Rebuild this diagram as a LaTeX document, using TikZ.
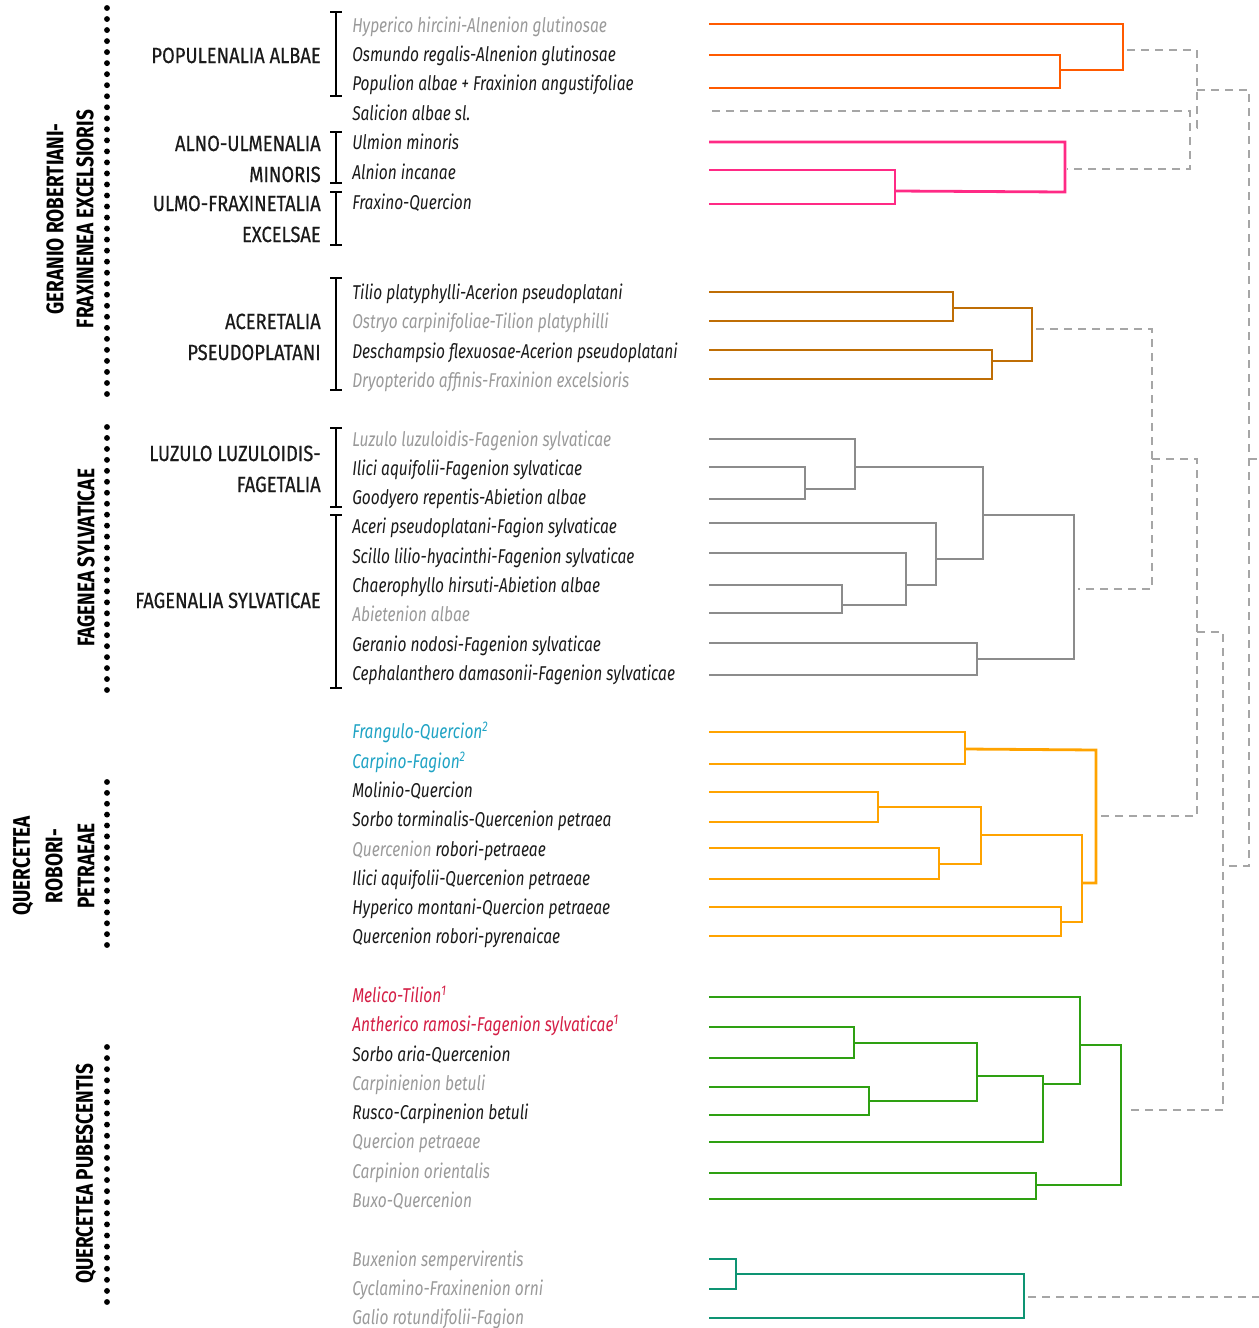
\documentclass[tikz,border=0pt]{standalone}
\usepackage{fontspec}
\newfontfamily\condfont[FakeStretch=0.775]{Fira Sans}
\newfontfamily\ordofont[FakeStretch=0.835,FakeBold=0.5]{Fira Sans}
\newfontfamily\klassfont[FakeStretch=0.79]{Fira Sans}
\definecolor{cOR}{HTML}{FF5A00}
\definecolor{cMG}{HTML}{FF2A85}
\definecolor{cBR}{HTML}{BF6E05}
\definecolor{cGR}{HTML}{8C8C8C}
\definecolor{cYL}{HTML}{FFA300}
\definecolor{cGN}{HTML}{2EA012}
\definecolor{cTL}{HTML}{0E9473}
\definecolor{cDS}{HTML}{A6A6A6}
\definecolor{tBK}{HTML}{1A1A1A}
\definecolor{tGY}{HTML}{9A9A9A}
\definecolor{tCY}{HTML}{1FA3C4}
\definecolor{tRD}{HTML}{D41E45}
\begin{document}
\begin{tikzpicture}[x=0.75pt,y=-0.75pt,
  lst/.style={anchor=base west,inner sep=0pt,font=\condfont\itshape\fontsize{15}{18}\selectfont,text=tBK},
  gry/.style={text=tGY},
  ordo/.style={anchor=base east,inner sep=0pt,font=\ordofont\fontsize{16.5}{20}\selectfont,text=tBK},
  klass/.style={inner sep=0pt,rotate=90,font=\klassfont\bfseries\fontsize{18}{22.5}\selectfont,text=black},
  br/.style={line width=1.9pt,draw=black},
  den/.style={line width=2.1pt,line join=miter},
  dsh/.style={line width=1.9pt,draw=cDS,dash pattern=on 6pt off 4.5pt}]
\useasboundingbox (0,0) rectangle (1259,1328);

% ---- class labels (rotated) ----
\node[klass,align=center] (k1) at (70,219) {GERANIO ROBERTIANI-\\FRAXINENEA EXCELSIORIS};
\node[klass] (k2) at (86,558) {FAGENEA SYLVATICAE};
\node[klass] (k3a) at (23,866) {QUERCETEA};
\node[klass] (k3b) at (54,866) {ROBORI-};
\node[klass] (k3c) at (86,866) {PETRAEAE};
\node[klass] (k4) at (86,1174) {QUERCETEA PUBESCENTIS};

% dotted lines
\foreach \a/\b/\n in {8/394/35, 427/690/24, 782/945/15, 1047/1302/23}{
  \foreach \i in {0,...,\n}{
    \fill[black] (107,{\a+\i*(\b-\a)/\n}) circle[radius=2.2pt];
  }
}

% ---- ordo labels ----
\node[ordo] (o1) at (321,63) {POPULENALIA ALBAE};
\node[ordo] (o2a) at (321,151) {ALNO-ULMENALIA};
\node[ordo] (o2b) at (321,182) {MINORIS};
\node[ordo] (o3a) at (321,211) {ULMO-FRAXINETALIA};
\node[ordo] (o3b) at (321,242) {EXCELSAE};
\node[ordo] (o4a) at (321,329) {ACERETALIA};
\node[ordo] (o4b) at (321,360) {PSEUDOPLATANI};
\node[ordo] (o5a) at (321,461) {LUZULO LUZULOIDIS-};
\node[ordo] (o5b) at (321,492) {FAGETALIA};
\node[ordo] (o6) at (321,608) {FAGENALIA SYLVATICAE};

% brackets
\foreach \a/\b in {12/96, 132/183, 192/245, 278/390, 428/507, 515/688}{
  \draw[br] (330,\a) -- (342,\a) (336,\a) -- (336,\b) (330,\b) -- (342,\b);
}

% ---- list of alliances ----
\node[lst,gry] (t1) at (352,32) {Hyperico hircini-Alnenion glutinosae};
\node[lst] (t2) at (352,61) {Osmundo regalis-Alnenion glutinosae};
\node[lst] (t3) at (352,90) {Populion albae + Fraxinion angustifoliae};
\node[lst] (t4) at (352,120) {Salicion albae sl.};
\node[lst] (t5) at (352,149) {Ulmion minoris};
\node[lst] (t6) at (352,179) {Alnion incanae};
\node[lst] (t7) at (352,209) {Fraxino-Quercion};
\node[lst] (t8) at (352,299) {Tilio platyphylli-Acerion pseudoplatani};
\node[lst,gry] (t9) at (352,328) {Ostryo carpinifoliae-Tilion platyphilli};
\node[lst] (t10) at (352,358) {Deschampsio flexuosae-Acerion pseudoplatani};
\node[lst,gry] (t11) at (352,387) {Dryopterido affinis-Fraxinion excelsioris};
\node[lst,gry] (t12) at (352,446) {Luzulo luzuloidis-Fagenion sylvaticae};
\node[lst] (t13) at (352,475) {Ilici aquifolii-Fagenion sylvaticae};
\node[lst] (t14) at (352,504) {Goodyero repentis-Abietion albae};
\node[lst] (t15) at (352,533) {Aceri pseudoplatani-Fagion sylvaticae};
\node[lst] (t16) at (352,563) {Scillo lilio-hyacinthi-Fagenion sylvaticae};
\node[lst] (t17) at (352,592) {Chaerophyllo hirsuti-Abietion albae};
\node[lst,gry] (t18) at (352,621) {Abietenion albae};
\node[lst] (t19) at (352,651) {Geranio nodosi-Fagenion sylvaticae};
\node[lst] (t20) at (352,680) {Cephalanthero damasonii-Fagenion sylvaticae};
\node[lst,text=tCY] (t21) at (352,738) {Frangulo-Quercion\textsuperscript{2}};
\node[lst,text=tCY] (t22) at (352,768) {Carpino-Fagion\textsuperscript{2}};
\node[lst] (t23) at (352,797) {Molinio-Quercion};
\node[lst] (t24) at (352,826) {Sorbo torminalis-Quercenion petraea};
\node[lst] (t25) at (352,856) {\textcolor{tGY}{Quercenion} robori-petraeae};
\node[lst] (t26) at (352,885) {Ilici aquifolii-Quercenion petraeae};
\node[lst] (t27) at (352,914) {Hyperico montani-Quercion petraeae};
\node[lst] (t28) at (352,943) {Quercenion robori-pyrenaicae};
\node[lst,text=tRD] (t29) at (352,1002) {Melico-Tilion\textsuperscript{1}};
\node[lst,text=tRD] (t30) at (352,1031) {Antherico ramosi-Fagenion sylvaticae\textsuperscript{1}};
\node[lst] (t31) at (352,1061) {Sorbo aria-Quercenion};
\node[lst,gry] (t32) at (352,1090) {Carpinienion betuli};
\node[lst] (t33) at (352,1119) {Rusco-Carpinenion betuli};
\node[lst,gry] (t34) at (352,1148) {Quercion petraeae};
\node[lst,gry] (t35) at (352,1178) {Carpinion orientalis};
\node[lst,gry] (t36) at (352,1207) {Buxo-Quercenion};
\node[lst,gry] (t37) at (352,1266) {Buxenion sempervirentis};
\node[lst,gry] (t38) at (352,1295) {Cyclamino-Fraxinenion orni};
\node[lst,gry] (t39) at (352,1324) {Galio rotundifolii-Fagion};

% ---- dendrogram ----
% orange-red
\draw[den,cOR] (709,24) -- (1123,24) -- (1123,70) -- (1060,70);
\draw[den,cOR] (709,55) -- (1060,55) -- (1060,88) -- (709,88);
% magenta
\draw[den,cMG] (709,142) -- (1065,142) -- (1065,192) -- (895,191);
\draw[den,cMG] (709,170) -- (895,170) -- (895,204) -- (709,204);
% brown
\draw[den,cBR] (709,292) -- (953,292) -- (953,321) -- (709,321);
\draw[den,cBR] (953,308) -- (1032,308) -- (1032,361) -- (992,361);
\draw[den,cBR] (709,350) -- (992,350) -- (992,379) -- (709,379);
% gray
\draw[den,cGR] (709,439) -- (855,439) -- (855,489) -- (805,489);
\draw[den,cGR] (709,467) -- (805,467) -- (805,499) -- (709,499);
\draw[den,cGR] (855,467) -- (983,467) -- (983,559) -- (936,559);
\draw[den,cGR] (709,523) -- (936,523) -- (936,585) -- (906,585);
\draw[den,cGR] (709,553) -- (906,553) -- (906,605) -- (842,605);
\draw[den,cGR] (709,585) -- (842,585) -- (842,613) -- (709,613);
\draw[den,cGR] (983,515) -- (1074,515) -- (1074,659) -- (977,659);
\draw[den,cGR] (709,643) -- (977,643) -- (977,675) -- (709,675);
% yellow
\draw[den,cYL] (709,732) -- (965,732) -- (965,764) -- (709,764);
\draw[den,cYL] (965,749) -- (1096,750) -- (1096,883) -- (1082,883);
\draw[den,cYL] (709,792) -- (878,792) -- (878,822) -- (709,822);
\draw[den,cYL] (878,807) -- (981,807) -- (981,864) -- (939,864);
\draw[den,cYL] (709,848) -- (939,848) -- (939,879) -- (709,879);
\draw[den,cYL] (981,835) -- (1082,835) -- (1082,922) -- (1061,922);
\draw[den,cYL] (709,907) -- (1061,907) -- (1061,936) -- (709,936);
% green
\draw[den,cGN] (709,997) -- (1080,997) -- (1080,1084) -- (1043,1084);
\draw[den,cGN] (709,1027) -- (854,1027) -- (854,1058) -- (709,1058);
\draw[den,cGN] (854,1043) -- (977,1043) -- (977,1101) -- (869,1101);
\draw[den,cGN] (709,1087) -- (869,1087) -- (869,1115) -- (709,1115);
\draw[den,cGN] (977,1076) -- (1043,1076) -- (1043,1142) -- (709,1142);
\draw[den,cGN] (1080,1045) -- (1121,1045) -- (1121,1185) -- (1036,1185);
\draw[den,cGN] (709,1173) -- (1036,1173) -- (1036,1199) -- (709,1199);
% teal
\draw[den,cTL] (709,1259) -- (736,1259) -- (736,1289) -- (709,1289);
\draw[den,cTL] (736,1274) -- (1024,1274) -- (1024,1318) -- (709,1318);

% dashed upper-level links
\draw[dsh] (1127,50) -- (1197,50) -- (1197,128) -- (1190,128);
\draw[dsh] (712,111) -- (1190,111) -- (1190,169) -- (1067,169);
\draw[dsh] (1197,90) -- (1249,90) -- (1249,866) -- (1223,866);
\draw[dsh] (1249,459) -- (1259,459);
\draw[dsh] (1036,329) -- (1152,329) -- (1152,589) -- (1078,589);
\draw[dsh] (1152,459) -- (1197,459) -- (1197,816) -- (1100,816);
\draw[dsh] (1197,632) -- (1223,632) -- (1223,1110) -- (1125,1110);
\draw[dsh] (1028,1297) -- (1259,1297);
\end{tikzpicture}
\end{document}
